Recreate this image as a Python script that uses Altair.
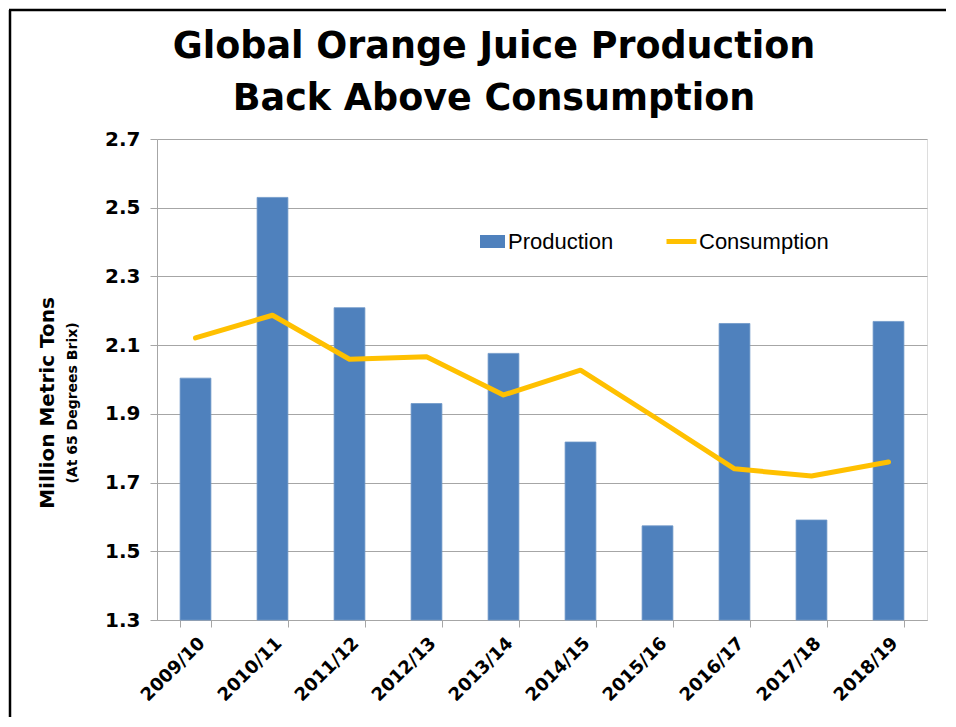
import altair as alt
import pandas as pd

seasons = ["2009/10", "2010/11", "2011/12", "2012/13", "2013/14",
           "2014/15", "2015/16", "2016/17", "2017/18", "2018/19"]
production = [2.004, 2.530, 2.209, 1.930, 2.076, 1.818, 1.574, 2.163, 1.591, 2.169]
consumption = [2.121, 2.187, 2.059, 2.066, 1.955, 2.027, 1.885, 1.740, 1.719, 1.760]
y_ticks = [1.3, 1.5, 1.7, 1.9, 2.1, 2.3, 2.5, 2.7]
title_lines = ["Global Orange Juice Production", "Back Above Consumption"]

df = pd.DataFrame({
    "season": seasons,
    "production": production,
    "consumption": consumption,
    "s1": ["Production"] * len(seasons),
    "s2": ["Consumption"] * len(seasons),
})

BLUE = "#4F81BD"
GOLD = "#FFC000"
GRAY = "#A6A6A6"
FONT = "Liberation Sans"
BFONT = "DejaVu Sans"

x_scale = alt.Scale(paddingInner=0.6, paddingOuter=0.3)
x_axis = alt.Axis(
    labelAngle=-45, labelFont=BFONT, labelFontWeight="bold", labelFontSize=18,
    labelColor="black", tickBand="extent", tickSize=7, tickColor=GRAY,
    domainColor=GRAY, labelPadding=7, grid=False,
)
y_scale = alt.Scale(domain=[1.3, 2.7], nice=False, zero=False)
y_axis = alt.Axis(
    values=y_ticks, format=".1f", labelFont=BFONT, labelFontWeight="bold",
    labelFontSize=20, labelColor="black", tickSize=7, tickColor=GRAY,
    domainColor=GRAY, gridColor=GRAY, gridWidth=1, labelPadding=10,
)

bars = alt.Chart(df).mark_bar(color=BLUE, stroke="#6E97C8",
                              strokeWidth=0.8).encode(
    x=alt.X("season:N", sort=seasons, title=None, scale=x_scale, axis=x_axis),
    y=alt.Y("production:Q", scale=y_scale, axis=y_axis, title=None),
    y2=alt.datum(1.3),
    color=alt.Color(
        "s1:N",
        scale=alt.Scale(domain=["Production"], range=[BLUE]),
        legend=alt.Legend(
            title=None, orient="none", legendX=323, legendY=90, padding=0,
            symbolType="M-1,-0.52H1V0.52H-1Z", symbolSize=625,
            symbolStrokeWidth=0, labelFont=FONT, labelFontSize=22,
            labelColor="black", labelOffset=3,
        ),
    ),
)

line = alt.Chart(df).mark_line(color=GOLD, strokeWidth=5, strokeCap="round",
                               strokeJoin="round").encode(
    x=alt.X("season:N", sort=seasons, title=None, scale=x_scale, axis=x_axis),
    y=alt.Y("consumption:Q", scale=y_scale, axis=y_axis, title=None),
    color=alt.Color(
        "s2:N",
        scale=alt.Scale(domain=["Consumption"], range=[GOLD]),
        legend=alt.Legend(
            title=None, orient="none", legendX=507, legendY=85, padding=0,
            symbolType="stroke", symbolSize=900, symbolStrokeWidth=5,
            labelFont=FONT, labelFontSize=22, labelColor="black", labelOffset=0,
        ),
    ),
)

title_df = pd.DataFrame({"t": title_lines, "i": [0, 1]})
title1 = alt.Chart(title_df.iloc[[0]]).mark_text(
    font=BFONT, fontWeight="bold", fontSize=36.5, color="black",
    align="center", baseline="alphabetic",
).encode(x=alt.value(337), y=alt.value(-81), text="t:N")
title2 = alt.Chart(title_df.iloc[[1]]).mark_text(
    font=BFONT, fontWeight="bold", fontSize=36.5, color="black",
    align="center", baseline="alphabetic",
).encode(x=alt.value(337), y=alt.value(-29), text="t:N")

ytitle = alt.Chart(pd.DataFrame({"t": ["Million Metric Tons"]})).mark_text(
    angle=270, font=BFONT, fontWeight="bold", fontSize=20, color="black",
    align="center", baseline="middle",
).encode(x=alt.value(-109), y=alt.value(264), text="t:N")

ysub = alt.Chart(pd.DataFrame({"t": ["(At 65 Degrees Brix)"]})).mark_text(
    angle=270, font=BFONT, fontWeight="bold", fontSize=14, color="black",
    align="center", baseline="middle",
).encode(x=alt.value(-84), y=alt.value(264), text="t:N")

border_left = alt.Chart(pd.DataFrame({"a": [0]})).mark_rule(
    color="black", strokeWidth=2.5
).encode(x=alt.value(-147), y=alt.value(-129), y2=alt.value(600))

border_top = alt.Chart(pd.DataFrame({"a": [0]})).mark_rule(
    color="black", strokeWidth=2.5
).encode(x=alt.value(-148), x2=alt.value(800), y=alt.value(-129))

chart = alt.layer(
    bars, line, title1, title2, ytitle, ysub, border_left, border_top
).resolve_scale(
    color="independent"
).properties(
    width=770,
    height=481,
    autosize=alt.AutoSizeParams(type="none"),
    padding={"left": 149, "top": 131, "right": 19, "bottom": 97},
).configure_view(strokeWidth=0, stroke="transparent").configure(background="white")

chart.save("out.html", embed_options={"renderer": "svg", "actions": False})
